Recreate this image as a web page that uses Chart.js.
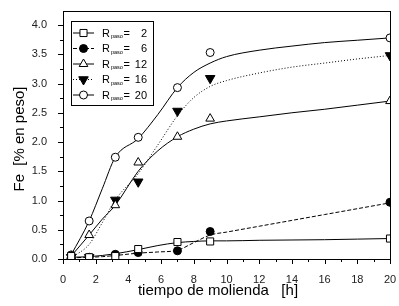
<!DOCTYPE html>
<html>
<head>
<meta charset="utf-8">
<script src="https://cdn.jsdelivr.net/npm/chart.js@4/dist/chart.umd.min.js"></script>
<style>
  html, body { margin: 0; padding: 0; background: #fff; }
</style>
</head>
<body>
<canvas id="c" width="399" height="306"></canvas>
<script>
// measured points (h, % Fe)
const pointTime = [0.5, 1.6, 3.2, 4.6, 7, 9, 20]
const pts2  = [0.05, 0.03, 0.05, 0.17, 0.29, 0.30, 0.35]
const pts6  = [0.02, 0.03, 0.08, 0.11, 0.14, 0.47, 0.97]
const pts12 = [0.05, 0.41, 0.92, 1.65, 2.09, 2.40, 2.70]
const pts16 = [0.03, 0.03, 1.01, 1.32, 2.53, 3.09, 3.48]
const pts20 = [0.07, 0.65, 1.74, 2.08, 2.93, 3.53, 3.78]

// fitted curves
const fitTime = [0.5, 1.6, 2.4, 3.2, 4.6, 5.8, 7, 8, 9, 10, 12, 14, 16, 18, 20]
const fit2  = [0.03, 0.04, 0.06, 0.09, 0.16, 0.23, 0.28, 0.30, 0.31, 0.31, 0.32, 0.325, 0.33, 0.34, 0.35]
const fit6  = [0.02, 0.03, 0.04, 0.06, 0.10, 0.12, 0.15, 0.28, 0.41, 0.46, 0.56, 0.66, 0.76, 0.86, 0.96]
const fit12 = [0.05, 0.41, 0.68, 0.92, 1.50, 1.85, 2.09, 2.22, 2.31, 2.36, 2.43, 2.50, 2.56, 2.63, 2.70]
const fit16 = [0.02, 0.25, 0.62, 1.01, 1.46, 1.95, 2.45, 2.76, 2.95, 3.05, 3.18, 3.28, 3.35, 3.42, 3.48]
const fit20 = [0.07, 0.65, 1.20, 1.74, 2.06, 2.47, 2.93, 3.19, 3.35, 3.46, 3.57, 3.64, 3.70, 3.74, 3.78]

const pasoLabels = ['2', '6', '12', '16', '20']

const FONT = "'Liberation Sans', Arial, Helvetica, sans-serif"
Chart.defaults.font.family = FONT

const series = [
  { pts: pts2,  fit: fit2,  dash: [],     style: 'rect',     fill: '#fff', radius: 5,   rot: 0 },
  { pts: pts6,  fit: fit6,  dash: [4, 2], style: 'circle',   fill: '#000', radius: 4,   rot: 0 },
  { pts: pts12, fit: fit12, dash: [],     style: 'triangle', fill: '#fff', radius: 5,   rot: 0 },
  { pts: pts16, fit: fit16, dash: [1, 2], style: 'triangle', fill: '#000', radius: 5.5, rot: 180 },
  { pts: pts20, fit: fit20, dash: [],     style: 'circle',   fill: '#fff', radius: 4,   rot: 0 },
]

const noOverflow = { left: 0, top: 0, right: 0, bottom: 0 }
const datasets = []
series.forEach((s, i) => {
  datasets.push({
    label: 'R paso = ' + pasoLabels[i],
    data: pointTime.map((t, k) => ({ x: t, y: s.pts[k] })),
    showLine: false,
    pointStyle: s.style,
    pointRotation: s.rot,
    pointRadius: s.radius,
    pointBackgroundColor: s.fill,
    pointBorderColor: '#000',
    pointBorderWidth: 1,
    clip: noOverflow,
    order: 0
  })
  datasets.push({
    label: 'fit ' + pasoLabels[i],
    data: fitTime.map((t, k) => ({ x: t, y: s.fit[k] })),
    showLine: true,
    borderColor: '#000',
    borderWidth: 1,
    borderDash: s.dash,
    pointRadius: 0,
    cubicInterpolationMode: 'monotone',
    clip: noOverflow,
    order: 1
  })
})

// marker drawn by hand for the legend box
const drawMarker = (ctx, s, x, y) => {
  ctx.save()
  ctx.setLineDash([])
  ctx.lineWidth = 1
  ctx.strokeStyle = '#000'
  ctx.fillStyle = s.fill
  ctx.beginPath()
  const r = s.radius
  if (s.style === 'rect') {
    const h = r * Math.SQRT1_2
    ctx.rect(x - h, y - h, 2 * h, 2 * h)
  } else if (s.style === 'circle') {
    ctx.arc(x, y, r, 0, Math.PI * 2)
  } else {
    const dir = s.rot ? -1 : 1
    ctx.moveTo(x, y - dir * r)
    ctx.lineTo(x + r * 0.866, y + dir * r / 2)
    ctx.lineTo(x - r * 0.866, y + dir * r / 2)
    ctx.closePath()
  }
  ctx.fill()
  ctx.stroke()
  ctx.restore()
}

const decor = {
  id: 'decor',
  afterDraw(chart) {
    const ctx = chart.ctx
    const a = chart.chartArea
    const xs = chart.scales.x
    const ys = chart.scales.y
    ctx.save()
    ctx.strokeStyle = '#000'
    ctx.lineWidth = 1
    ctx.setLineDash([])
    // frame
    ctx.strokeRect(Math.round(a.left) + 0.5, Math.round(a.top) + 0.5,
      Math.round(a.right - a.left), Math.round(a.bottom - a.top))
    // ticks, major + minor
    ctx.beginPath()
    for (let v = 0; v <= 20; v++) {
      const px = Math.round(xs.getPixelForValue(v)) + 0.5
      const len = v % 2 === 0 ? 5 : 3
      ctx.moveTo(px, Math.round(a.bottom))
      ctx.lineTo(px, Math.round(a.bottom) + len)
    }
    for (let k = 0; k <= 16; k++) {
      const py = Math.round(ys.getPixelForValue(k * 0.25)) + 0.5
      const len = k % 2 === 0 ? 5 : 3
      ctx.moveTo(Math.round(a.left), py)
      ctx.lineTo(Math.round(a.left) - len, py)
    }
    ctx.stroke()

    // axis titles
    ctx.fillStyle = '#000'
    ctx.font = '15px ' + FONT
    ctx.textAlign = 'center'
    ctx.textBaseline = 'middle'
    ctx.fillText('tiempo de molienda   [h]', 218, 291)
    ctx.save()
    ctx.translate(20, 139)
    ctx.rotate(-Math.PI / 2)
    ctx.fillText('Fe  [% en peso]', 0, 0)
    ctx.restore()

    // legend box
    ctx.fillStyle = '#fff'
    ctx.fillRect(71.5, 21.5, 82, 84)
    ctx.strokeRect(71.5, 21.5, 82, 84)
    const rows = [32.5, 48, 63.5, 79, 94.5]
    series.forEach((s, i) => {
      const y = rows[i]
      ctx.beginPath()
      ctx.setLineDash(s.dash)
      ctx.moveTo(73, y + 0.5)
      ctx.lineTo(94, y + 0.5)
      ctx.stroke()
      ctx.setLineDash([])
      drawMarker(ctx, s, 83.5, y + 0.5)
      ctx.fillStyle = '#000'
      ctx.textBaseline = 'middle'
      ctx.textAlign = 'left'
      ctx.font = '11px ' + FONT
      ctx.fillText('R', 102, y + 1)
      ctx.font = '5.5px ' + FONT
      ctx.fillText('paso', 111, y + 4)
      ctx.font = '11px ' + FONT
      ctx.fillText('=', 123.5, y + 1)
      ctx.textAlign = 'right'
      ctx.fillText(pasoLabels[i], 147, y + 1)
    })
    ctx.restore()
  }
}

new Chart(document.getElementById('c'), {
  type: 'scatter',
  data: { datasets },
  options: {
    responsive: false,
    animation: false,
    layout: { padding: { top: 11, right: 9, left: 0, bottom: 0 } },
    plugins: { legend: { display: false }, tooltip: { enabled: false } },
    scales: {
      x: {
        type: 'linear',
        min: 0,
        max: 20,
        afterFit: (s) => { s.height = 47; s.paddingLeft = 0; s.paddingRight = 0 },
        grid: { display: false },
        border: { display: false },
        ticks: { stepSize: 2, padding: 6, color: '#222', font: { size: 11 } }
      },
      y: {
        type: 'linear',
        min: 0,
        max: 4.24,
        afterFit: (s) => { s.width = 63; s.paddingTop = 0; s.paddingBottom = 0 },
        grid: { display: false },
        border: { display: false },
        ticks: {
          stepSize: 0.5,
          padding: 8,
          color: '#222',
          font: { size: 11 },
          callback: (v) => (Math.abs(v * 2 - Math.round(v * 2)) < 1e-6 ? v.toFixed(1) : '')
        }
      }
    }
  },
  plugins: [decor]
})
</script>
</body>
</html>
